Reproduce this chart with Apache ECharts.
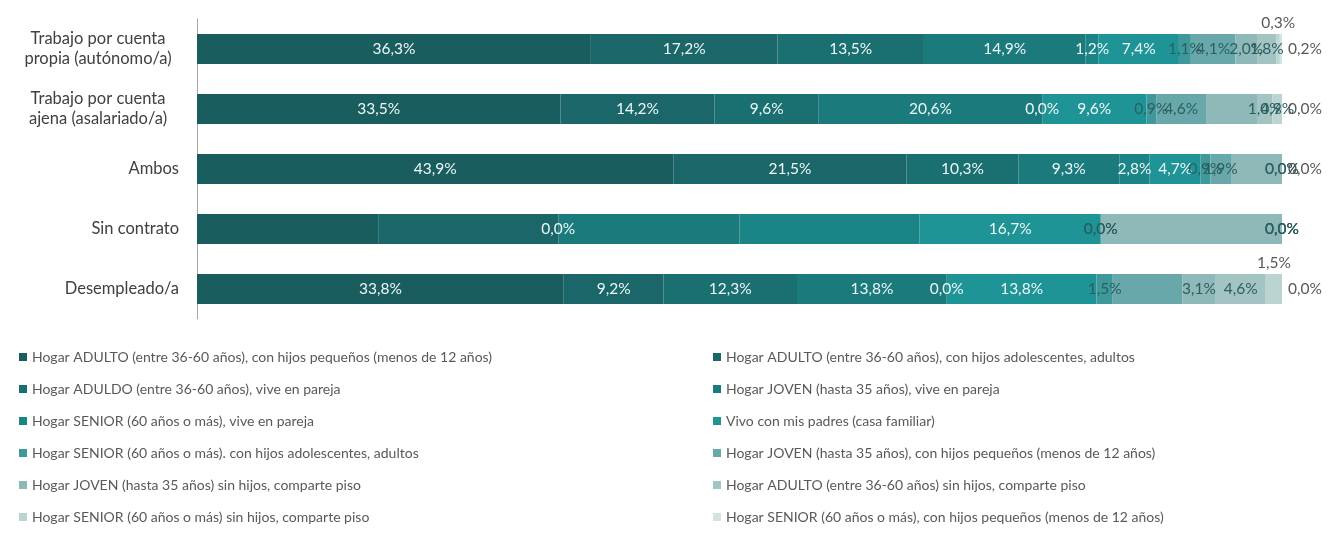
<!DOCTYPE html>
<html>
<head>
<meta charset="utf-8">
<script src="https://cdn.jsdelivr.net/npm/echarts@6/dist/echarts.min.js"></script>
<style>
  html, body { margin: 0; padding: 0; background: #fff; }
  #hogar-bar { width: 1334px; height: 546px; }
</style>
</head>
<body>
<div id="hogar-bar"></div>
<script>
// categorías (de arriba a abajo)
const categories = [
  'Trabajo por cuenta\npropia (autónomo/a)',
  'Trabajo por cuenta\najena (asalariado/a)',
  'Ambos',
  'Sin contrato',
  'Desempleado/a'
]

// tipos de hogar, en el orden de apilado
const seriesNames = [
  'Hogar ADULTO (entre 36-60 años), con hijos pequeños (menos de 12 años)',
  'Hogar ADULTO (entre 36-60 años), con hijos adolescentes, adultos',
  'Hogar ADULDO (entre 36-60 años), vive en pareja',
  'Hogar JOVEN (hasta 35 años), vive en pareja',
  'Hogar SENIOR (60 años o más), vive en pareja',
  'Vivo con mis padres (casa familiar)',
  'Hogar SENIOR (60 años o más). con hijos adolescentes, adultos',
  'Hogar JOVEN (hasta 35 años), con hijos pequeños (menos de 12 años)',
  'Hogar JOVEN (hasta 35 años) sin hijos, comparte piso',
  'Hogar ADULTO (entre 36-60 años) sin hijos, comparte piso',
  'Hogar SENIOR (60 años o más) sin hijos, comparte piso',
  'Hogar SENIOR (60 años o más), con hijos pequeños (menos de 12 años)'
]

// % por fila, un valor por tipo de hogar
const propia      = [36.3, 17.2, 13.5, 14.9, 1.2, 7.4, 1.1, 4.1, 2.0, 1.8, 0.3, 0.2]
const ajena       = [33.5, 14.2, 9.6, 20.6, 0.0, 9.6, 0.9, 4.6, 4.7, 1.4, 0.9, 0.0]
const ambos       = [43.9, 21.5, 10.3, 9.3, 2.8, 4.7, 0.9, 1.9, 4.7, 0.0, 0.0, 0.0]
const sinContrato = [16.7, 16.6, 0.0, 16.7, 16.6, 16.7, 0.0, 0.0, 16.7, 0.0, 0.0, 0.0]
const desempleado = [33.8, 9.2, 12.3, 13.8, 0.0, 13.8, 1.5, 6.4, 3.1, 4.6, 1.5, 0.0]

const rows = [propia, ajena, ambos, sinContrato, desempleado]

const colorArr = ['#1a5d5f', '#1b6668', '#1a6f71', '#1a7a7c', '#1b8486', '#1f9496',
                  '#3f999b', '#68a8aa', '#8fb8b9', '#a4c3c3', '#bcd4d1', '#d3e3e3']

// etiquetas ocultas / desplazadas como en el original  ("serie-fila")
const hiddenLabels = ['8-1', '8-2', '0-3', '1-3', '3-3', '4-3', '8-3', '7-4']
const topLabels = ['10-0', '10-4']
const rightLabels = ['11-0', '11-1', '11-2', '11-4']

function fmt(v) {
  return v.toFixed(1).replace('.', ',') + '%'
}

var myChart = echarts.init(document.getElementById('hogar-bar'))

var series = seriesNames.map((name, i) => {
  return {
    name: name,
    type: 'bar',
    stack: 'total',
    barCategoryGap: '50%',
    itemStyle: { color: colorArr[i], borderWidth: 0 },
    label: {
      show: true,
      position: 'inside',
      color: i < 6 ? '#eef7f7' : '#2c5f61',
      fontSize: 15.5,
      fontFamily: 'Lato',
      formatter: p => fmt(p.value)
    },
    data: rows.map((row, r) => {
      const key = i + '-' + r
      const item = { value: row[i] }
      if (hiddenLabels.includes(key)) {
        item.label = { show: false }
      } else if (topLabels.includes(key)) {
        item.label = { position: 'top', color: '#595959', distance: 3 }
      } else if (rightLabels.includes(key)) {
        item.label = { position: 'right', color: '#595959', distance: 6 }
      }
      return item
    })
  }
})

var legendText = { color: '#595959', fontSize: 14, fontFamily: 'Lato', lineHeight: 20 }

var option = {
  animation: false,
  grid: { left: 197, right: 52, top: 19, bottom: 227 },
  xAxis: { type: 'value', min: 0, max: 100, show: false },
  yAxis: {
    type: 'category',
    inverse: true,
    data: categories,
    axisLine: { show: true, lineStyle: { color: '#a6a6a6' } },
    axisTick: { show: false },
    axisLabel: {
      margin: 18,
      color: '#404040',
      fontSize: 16.5,
      fontFamily: 'Lato',
      lineHeight: 20,
      formatter: function (value) {
        if (value.indexOf('\n') < 0) return value
        return value.split('\n').map(s => '{m|' + s + '}').join('\n')
      },
      rich: {
        m: { width: 162, align: 'center', color: '#404040', fontSize: 16.5, fontFamily: 'Lato', lineHeight: 20 }
      }
    }
  },
  legend: [
    {
      orient: 'vertical', left: 14, top: 342, itemGap: 12,
      itemWidth: 8, itemHeight: 8, icon: 'rect',
      textStyle: legendText,
      data: seriesNames.filter((n, i) => i % 2 === 0)
    },
    {
      orient: 'vertical', left: 708, top: 342, itemGap: 12,
      itemWidth: 8, itemHeight: 8, icon: 'rect',
      textStyle: legendText,
      data: seriesNames.filter((n, i) => i % 2 === 1)
    }
  ],
  series: series
}

myChart.setOption(option)
</script>
</body>
</html>
